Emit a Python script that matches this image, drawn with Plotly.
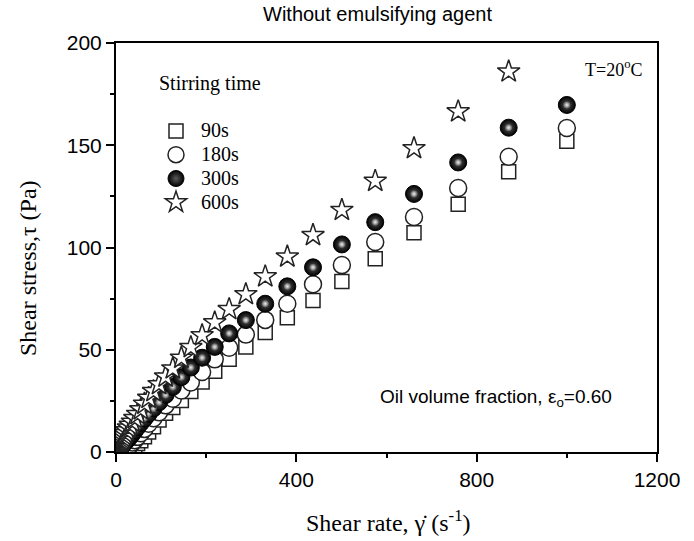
import plotly.graph_objects as go

# ---- data ----
rate_90s = [24.0, 27.5, 31.6, 36.3, 41.7, 47.9, 55.0, 63.1, 72.4, 83.2, 95.5, 110, 126, 145, 166, 191,
            219, 251, 288, 331, 380, 437, 501, 575, 661, 759, 871, 1000]
tau_90s = [0.3, 0.6, 1.1, 2.0, 3.0, 4.1, 5.5, 7.4, 9.8, 12.4, 15.6, 19.0, 21.8, 25.2, 29.6, 34.2,
           39.5, 45.3, 51.3, 58.4, 65.7, 74.1, 83.4, 94.5, 107.2, 121.2, 137.0, 152.0]

rate_180s = [20.9, 24.0, 27.5, 31.6, 36.3, 41.7, 47.9, 55.0, 63.1, 72.4, 83.2, 95.5, 110, 126, 145, 166,
             191, 219, 251, 288, 331, 380, 437, 501, 575, 661, 759, 871, 1000]
tau_180s = [0.8, 1.5, 2.4, 3.4, 4.6, 5.8, 7.4, 9.2, 11.3, 13.8, 16.5, 19.4, 22.8, 26.0, 30.1, 34.0,
            39.1, 45.3, 51.0, 57.4, 64.6, 72.5, 82.0, 91.4, 102.7, 114.9, 129.1, 144.4, 158.4]

rate_300s = [4.0, 4.6, 5.2, 6.0, 6.9, 7.9, 9.1, 10.5, 12.0, 13.8, 15.8, 18.2, 20.9, 24.0, 27.5, 31.6,
             36.3, 41.7, 47.9, 55.0, 63.1, 72.4, 83.2, 95.5, 110, 126, 145, 166, 191, 219, 251, 288,
             331, 380, 437, 501, 575, 661, 759, 871, 1000]
tau_300s = [0.9, 1.0, 1.2, 1.3, 1.5, 1.8, 2.0, 2.4, 2.7, 3.2, 3.7, 4.3, 5.0, 5.7, 6.6, 7.6,
            8.9, 10.4, 12.2, 14.2, 16.3, 18.6, 21.3, 24.3, 27.9, 31.8, 36.6, 41.3, 46.1, 51.4, 58.0, 64.5,
            72.5, 81.0, 90.3, 101.5, 112.4, 126.2, 141.6, 158.6, 169.7]

rate_600s = [4.0, 4.6, 5.2, 6.0, 6.9, 7.9, 9.1, 10.5, 12.0, 13.8, 15.8, 18.2, 20.9, 24.0, 27.5, 31.6,
             36.3, 41.7, 47.9, 55.0, 63.1, 72.4, 83.2, 95.5, 110, 126, 145, 166, 191, 219, 251, 288,
             331, 380, 437, 501, 575, 661, 759, 871]
tau_600s = [2.9, 3.1, 3.3, 3.6, 3.9, 4.2, 4.7, 5.1, 5.6, 6.3, 7.1, 8.1, 9.2, 10.5, 11.9, 13.2,
            14.7, 16.5, 18.5, 20.8, 23.5, 26.4, 29.7, 33.1, 36.8, 40.8, 46.0, 51.2, 57.0, 63.3, 69.8, 77.1,
            85.8, 95.5, 106.0, 118.3, 132.5, 148.5, 166.5, 186.0]

series_names = ["90s", "180s", "300s", "600s"]
x_ticks = [0, 400, 800, 1200]
y_ticks = [0, 50, 100, 150, 200]

SERIF = "Liberation Serif, Times New Roman, serif"
SANS = "Liberation Sans, Arial, sans-serif"


def legend_label(s):
    return "<span style='font-size:20px'>\u00a0" + s + "</span>"


fig = go.Figure()
fig.add_trace(go.Scatter(x=rate_90s, y=tau_90s, mode="markers", name=legend_label(series_names[0]),
                         marker=dict(symbol="square", size=14, color="white",
                                     line=dict(color="#222", width=1.5))))
fig.add_trace(go.Scatter(x=rate_180s, y=tau_180s, mode="markers", name=legend_label(series_names[1]),
                         marker=dict(symbol="circle", size=17, color="white",
                                     line=dict(color="#222", width=1.5))))
fig.add_trace(go.Scatter(x=rate_300s, y=tau_300s, mode="markers", name=legend_label(series_names[2]),
                         marker=dict(symbol="circle", size=17, color="black",
                                     gradient=dict(type="radial", color="#5a5a5a"),
                                     line=dict(color="black", width=1))))
# specular highlight on the spheres
fig.add_trace(go.Scatter(x=rate_300s, y=tau_300s, mode="markers", showlegend=False, hoverinfo="skip",
                         marker=dict(symbol="circle", size=8, color="rgba(255,255,255,0)",
                                     gradient=dict(type="radial", color="rgba(235,235,235,1)"),
                                     line=dict(width=0))))
fig.add_trace(go.Scatter(x=rate_600s, y=tau_600s, mode="markers", name=legend_label(series_names[3]),
                         marker=dict(symbol="star", size=17, color="white",
                                     line=dict(color="#222", width=1.5))))

axis_common = dict(showline=True, linecolor="black", linewidth=2, mirror=True,
                   ticks="outside", ticklen=8, tickwidth=2, tickcolor="black",
                   showgrid=False, zeroline=False,
                   tickfont=dict(family=SANS, size=21, color="black"))

fig.update_xaxes(range=[0, 1200], tickmode="array", tickvals=x_ticks,
                 minor=dict(ticks="outside", ticklen=4, tickwidth=1.5, tickcolor="black", dtick=200),
                 **axis_common)
fig.update_yaxes(range=[0, 200], tickmode="array", tickvals=y_ticks,
                 minor=dict(ticks="outside", ticklen=4, tickwidth=1.5, tickcolor="black", dtick=25),
                 **axis_common)

L, R, T, B = 116, 37, 43, 89
W, H = 694, 541
pw, ph = W - L - R, H - T - B


def px(xp):
    return (xp - L) / pw


def py(yp):
    return (H - B - yp) / ph


annotations = [
    dict(text="Without emulsifying agent", x=px(377), y=py(14), font=dict(family=SANS, size=20)),
    dict(text="T=20<sup>o</sup>C", x=px(583), y=py(68), xanchor="left", font=dict(family=SERIF, size=18)),
    dict(text="Oil volume fraction, ε<sub>o</sub>=0.60", x=px(378), y=py(398), xanchor="left",
         font=dict(family=SANS, size=19)),
    dict(text="Stirring time", x=px(157), y=py(83), xanchor="left", font=dict(family=SERIF, size=20)),
    dict(text="Shear stress,τ (Pa)", x=px(28), y=py(268), textangle=-90,
         font=dict(family=SERIF, size=24)),
    dict(text="Shear rate, γ\u0307 (s<sup>-1</sup>)", x=px(388), y=py(521),
         font=dict(family=SERIF, size=24)),
]
for a in annotations:
    a.setdefault("xanchor", "center")
    a.update(xref="paper", yref="paper", yanchor="middle", showarrow=False)
    a["font"]["color"] = "black"

fig.update_layout(
    width=W, height=H,
    margin=dict(l=L, r=R, t=T, b=B),
    paper_bgcolor="white", plot_bgcolor="white",
    showlegend=True,
    legend=dict(x=px(156), y=py(114), xanchor="left", yanchor="top",
                font=dict(family=SERIF, size=16, color="black"),
                bgcolor="rgba(0,0,0,0)", borderwidth=0),
    annotations=annotations,
)

fig.write_html("out.html")
